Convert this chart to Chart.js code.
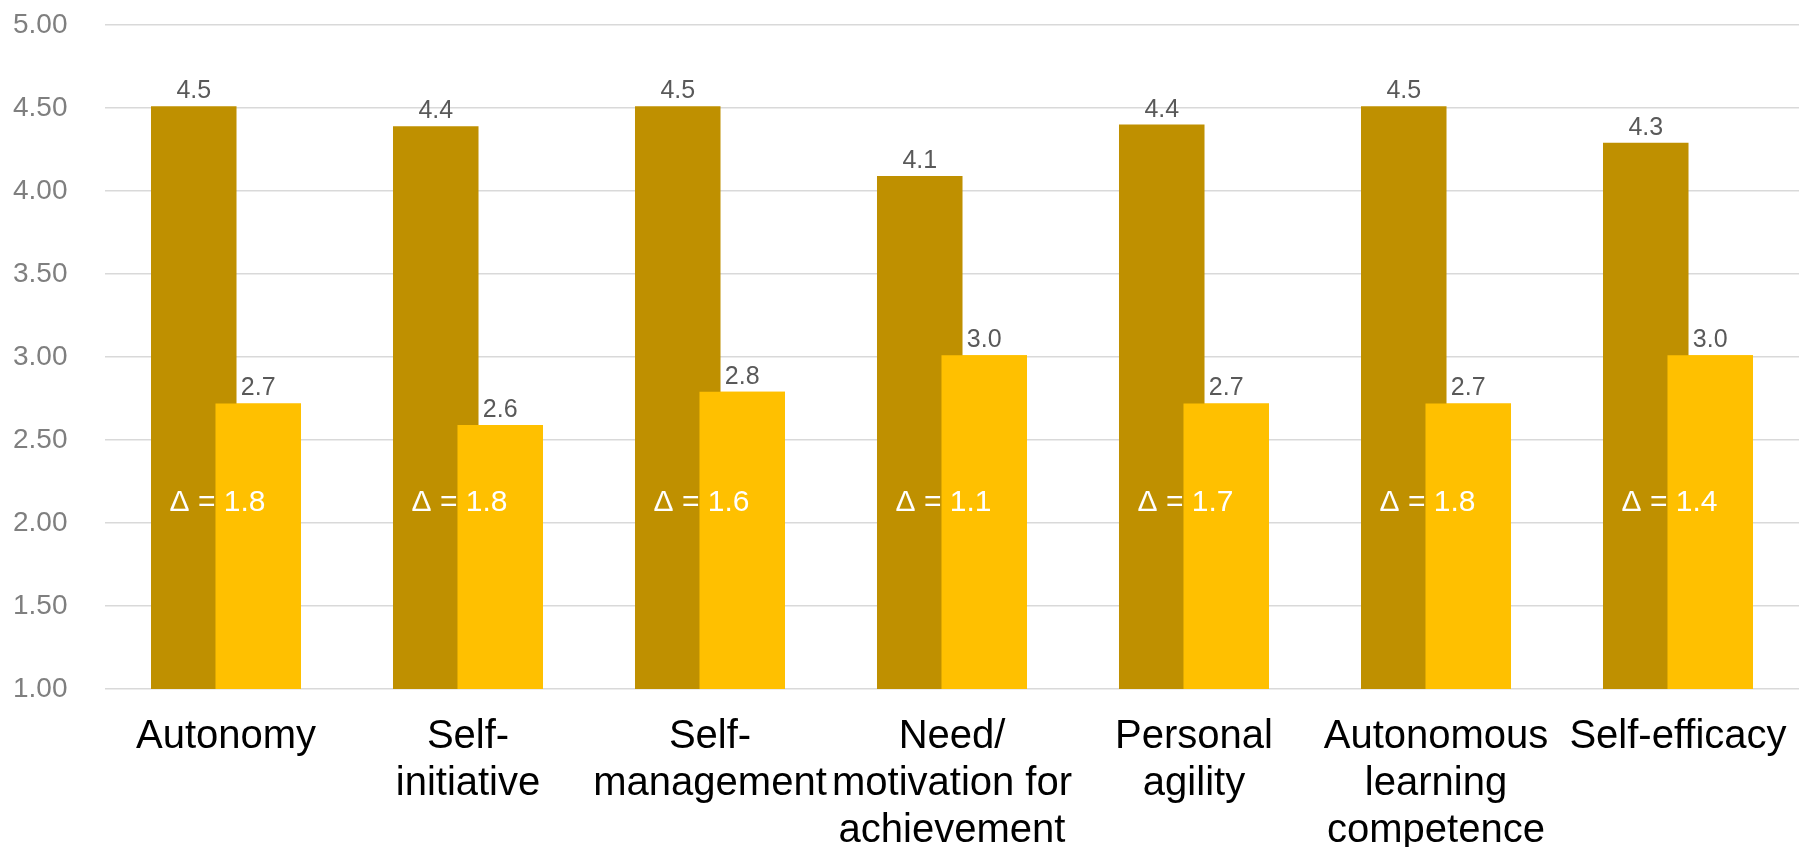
<!DOCTYPE html>
<html>
<head>
<meta charset="utf-8">
<title>Self-competence ratings</title>
<script src="https://cdn.jsdelivr.net/npm/chart.js@4.4.1/dist/chart.umd.min.js"></script>
<style>
  html, body { margin: 0; padding: 0; background: #fff; }
  #chart { display: block; }
</style>
</head>
<body>
<canvas id="chart" width="1810" height="847"></canvas>
<script>
const FONT = "'Liberation Sans', Arial, sans-serif";

const categories = [
  ["Autonomy"],
  ["Self-", "initiative"],
  ["Self-", "management"],
  ["Need/", "motivation for", "achievement"],
  ["Personal", "agility"],
  ["Autonomous", "learning", "competence"],
  ["Self-efficacy"]
];
const targetScores = [4.51, 4.39, 4.51, 4.09, 4.40, 4.51, 4.29];
const actualScores = [2.72, 2.59, 2.79, 3.01, 2.72, 2.72, 3.01];
const gaps = [1.8, 1.8, 1.6, 1.1, 1.7, 1.8, 1.4];
const yMin = 1;
const yMax = 5;
const yStep = 0.5;

// value labels on top of every bar + the white gap text across each pair
const barLabels = {
  id: "barLabels",
  afterDatasetsDraw(chart, args, opts) {
    const ctx = chart.ctx;
    const area = chart.chartArea;

    // Chart.js paints the first dataset last; put the light bars in front
    ctx.save();
    ctx.beginPath();
    ctx.rect(area.left, area.top, area.right - area.left, area.bottom - area.top);
    ctx.clip();
    chart.getDatasetMeta(1).controller.draw();
    ctx.restore();

    ctx.save();
    ctx.textAlign = "center";
    ctx.textBaseline = "alphabetic";
    ctx.font = "25px " + FONT;
    ctx.fillStyle = "#595959";
    chart.data.datasets.forEach((ds, di) => {
      chart.getDatasetMeta(di).data.forEach((bar, i) => {
        ctx.fillText(ds.data[i].toFixed(1), bar.x, bar.y - 8);
      });
    });

    const y = chart.scales.y.getPixelForValue(opts.gapLevel);
    ctx.font = "30px " + FONT;
    ctx.fillStyle = "#ffffff";
    chart.getDatasetMeta(1).data.forEach((bar, i) => {
      ctx.fillText("\u0394 = " + gaps[i].toFixed(1), bar.x - bar.width / 2 + 2, y);
    });
    ctx.restore();
  }
};

new Chart(document.getElementById("chart"), {
  type: "bar",
  data: {
    labels: categories,
    datasets: [
      {
        label: "Target",
        data: targetScores,
        backgroundColor: "#BF9000",
        borderWidth: 0,
        categoryPercentage: 0.533,
        barPercentage: 1.326
      },
      {
        label: "Actual",
        data: actualScores,
        backgroundColor: "#FFC000",
        borderWidth: 0,
        categoryPercentage: 0.533,
        barPercentage: 1.326
      }
    ]
  },
  options: {
    responsive: false,
    animation: false,
    layout: { padding: { top: 25, right: 11, left: 13, bottom: 0 } },
    plugins: {
      legend: { display: false },
      tooltip: { enabled: false },
      barLabels: { gapLevel: 2.07 }
    },
    scales: {
      x: {
        grid: { display: false },
        border: { display: false },
        ticks: {
          color: "#000000",
          font: { family: FONT, size: 40, lineHeight: 1.18 },
          padding: 16,
          maxRotation: 0,
          autoSkip: false
        },
        afterFit: (scale) => { scale.height = 158; }
      },
      y: {
        min: yMin,
        max: yMax,
        grid: { color: "#d9d9d9", lineWidth: 1.5, drawTicks: false },
        border: { display: false },
        ticks: {
          stepSize: yStep,
          color: "#7f7f7f",
          font: { family: FONT, size: 28 },
          padding: 3,
          crossAlign: "far",
          callback: (v) => Number(v).toFixed(2)
        },
        afterFit: (scale) => { scale.width = 92; }
      }
    }
  },
  plugins: [barLabels]
});
</script>
</body>
</html>
